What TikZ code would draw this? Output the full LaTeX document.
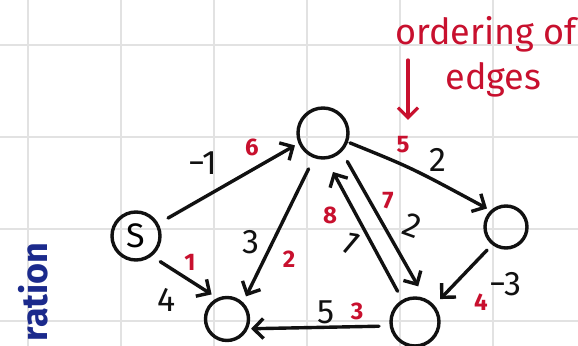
\documentclass[tikz,border=0pt]{standalone}
\usepackage{fontspec}
\setmainfont{Fira Sans}
\usetikzlibrary{arrows.meta}
\definecolor{ink}{HTML}{111111}
\definecolor{pen}{HTML}{C8102E}
\definecolor{navy}{HTML}{1B2A8C}
\definecolor{gridgray}{HTML}{E2E2E2}

\begin{document}
\begin{tikzpicture}[x=0.5pt,y=-0.5pt,
  vertex/.style={circle,draw=ink,line width=1.7pt,inner sep=0pt},
  edge/.style={draw=ink,line width=1.7pt,line cap=round,line join=round,
    -{Straight Barb[length=5pt,width=10pt]}},
  wt/.style={text=ink,font=\fontsize{17}{17}\selectfont,inner sep=0pt},
  ord/.style={text=pen,font=\bfseries\fontsize{12}{12}\selectfont,inner sep=0pt},
  note/.style={text=pen,font=\fontsize{18}{18}\selectfont,inner sep=0pt},
  gridline/.style={draw=gridgray,line width=0.7pt},
]
\fill[white] (0,0) rectangle (578,346);
\useasboundingbox (0,0) rectangle (578,346);

% squared paper
\foreach \gx in {28,121,214,307,400,493}
  \draw[gridline] (\gx,0) -- (\gx,346);
\foreach \gy in {45,137,229,321}
  \draw[gridline] (0,\gy) -- (578,\gy);

% vertices
\node[vertex,minimum size=24pt,font=\fontsize{17}{17}\selectfont] (s) at (136,236) {S};
\node[vertex,minimum size=25pt] (t) at (323,133) {};
\node[vertex,minimum size=21pt] (r) at (506,227) {};
\node[vertex,minimum size=21.5pt] (bl) at (227,319) {};
\node[vertex,minimum size=24pt] (br) at (415,322) {};

% edges
\draw[edge,shorten <=5.5pt,shorten >=2pt] (s.29) -- (t.203);
\draw[edge,shorten <=5pt,shorten >=3.3pt] (s.-52) -- (bl.115);
\draw[edge,shorten <=6pt,shorten >=3.3pt] (t.250.6) -- (bl.46.4);
\draw[edge,shorten <=1pt,shorten >=2pt] (t.-20) .. controls (412,168) .. (r.133.5);
\draw[edge,shorten <=5.5pt,shorten >=6.9pt] (t.-45) -- (br.67);
\draw[edge,shorten <=4.8pt,shorten >=7.1pt] (br.120) -- (t.-83);
\draw[edge,shorten <=3.6pt,shorten >=4.2pt] (r.232) -- (br.41.3);
\draw[edge,shorten <=5.3pt,shorten >=1.5pt] (br.189.7) -- (bl.-25.6);

% weights
\node[wt] (w1) at (203,163) {−1};
\node[wt] (w2) at (167,300) {4};
\node[wt] (w3) at (251,242) {3};
\node[wt] (w4) at (438,160) {2};
\node[wt,rotate=-20] (w5) at (412,226) {2};
\node[wt,rotate=-40] (w6) at (350,243) {1};
\node[wt] (w7) at (505,284) {−3};
\node[wt] (w8) at (326,312) {5};

% order in which the edges are relaxed
\node[ord] (o1) at (190,262) {1};
\node[ord] (o2) at (289,259) {2};
\node[ord] (o3) at (357,311) {3};
\node[ord] (o4) at (481,302) {4};
\node[ord] (o5) at (403,145) {5};
\node[ord] (o6) at (252,147) {6};
\node[ord] (o7) at (388,201) {7};
\node[ord] (o8) at (330,215) {8};

% annotation
\node[note,anchor=base west] (n1) at (395,45) {ordering of};
\node[note,anchor=base west] (n2) at (445,90) {edges};
\coordinate (a0) at (408,60);
\coordinate (a1) at (408,120);
\draw[pen,line width=1.6pt,line cap=round,-{Straight Barb[length=5pt,width=10pt]}] (a0) -- (a1);

\node[text=navy,font=\bfseries\fontsize{18}{18}\selectfont,rotate=90,anchor=base east,inner sep=0pt] (it) at (47,242) {ration};
\end{tikzpicture}
\end{document}
